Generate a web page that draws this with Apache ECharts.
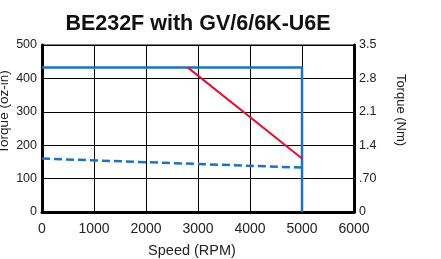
<!DOCTYPE html>
<html>
<head>
<meta charset="utf-8">
<script src="https://cdn.jsdelivr.net/npm/echarts@6/dist/echarts.min.js"></script>
<style>
  html, body { margin: 0; padding: 0; background: #fff; }
  #chart { width: 441px; height: 259px; }
</style>
</head>
<body>
<div id="chart"></div>
<script>
// values
const speedTicks = [0, 1000, 2000, 3000, 4000, 5000, 6000]
const nmTicks = ['0', '.70', '1.4', '2.1', '2.8', '3.5']
const limitSpeed = [0, 5000, 5000]
const limitTorque = [433, 433, 0]
const pulloutSpeed = [2800, 5000]
const pulloutTorque = [433, 160]
const dashSpeed = [0, 5000]
const dashTorque = [160, 133]

const font = 'Liberation Sans, Arial, sans-serif'
const pairs = (xs, ys) => xs.map((x, i) => [x, ys[i]])
const nameStyle = size => ({ fontFamily: font, fontSize: size, fill: '#222' })

const chart = echarts.init(document.getElementById('chart'))
chart.setOption({
  animation: false,
  title: {
    text: 'BE232F with GV/6/6K-U6E',
    left: 193, top: 8, textAlign: 'center',
    textStyle: { fontFamily: font, fontSize: 21.5, fontWeight: 'bold', color: '#111' }
  },
  // axis names placed by hand, like the original
  graphic: [
    { type: 'text', x: 192, y: 251, style: { text: 'Speed (RPM)', ...nameStyle(14.5), align: 'center', verticalAlign: 'middle' } },
    { type: 'text', x: 4, y: 112, rotation: Math.PI / 2, style: { text: 'Torque (oz-in)', ...nameStyle(13.5), align: 'center', verticalAlign: 'middle' } },
    { type: 'text', x: 401, y: 110, rotation: -Math.PI / 2, style: { text: 'Torque (Nm)', ...nameStyle(13), align: 'center', verticalAlign: 'middle' } }
  ],
  grid: {
    left: 42, right: 87, top: 45, bottom: 47,
    outerBoundsMode: 'none', containLabel: false,
    show: true, borderColor: '#000', borderWidth: 1
  },
  xAxis: {
    type: 'value', min: 0, max: 6000, interval: 1000,
    axisLine: { lineStyle: { color: '#000', width: 3 } },
    axisTick: { show: false },
    axisLabel: { fontFamily: font, fontSize: 14, color: '#222', margin: 10,
      formatter: v => speedTicks.includes(v) ? String(v) : '' },
    splitLine: { lineStyle: { color: '#000', width: 1 } }
  },
  yAxis: [
    {
      type: 'value', min: 0, max: 500, interval: 100,
      axisLine: { show: true, lineStyle: { color: '#000', width: 3 } },
      axisTick: { show: false },
      axisLabel: { fontFamily: font, fontSize: 12.5, color: '#222', margin: 5 },
      splitLine: { lineStyle: { color: '#000', width: 1 } }
    },
    {
      type: 'value', min: 0, max: 3.5, interval: 0.7, position: 'right',
      axisLine: { show: true, lineStyle: { color: '#000', width: 3 } },
      axisTick: { show: false },
      axisLabel: { fontFamily: font, fontSize: 12.5, color: '#222', margin: 5,
        formatter: (v, i) => nmTicks[i] },
      splitLine: { show: false }
    }
  ],
  series: [
    {
      type: 'line', data: pairs(limitSpeed, limitTorque), symbol: 'none',
      lineStyle: { color: '#1a73c1', width: 2.5 }
    },
    {
      type: 'line', data: pairs(pulloutSpeed, pulloutTorque), symbol: 'none',
      lineStyle: { color: '#e3102f', width: 2 }
    },
    {
      type: 'line', data: pairs(dashSpeed, dashTorque), symbol: 'none',
      lineStyle: { color: '#1a73c1', width: 2.5, type: [8, 4] }
    }
  ]
})
</script>
</body>
</html>
